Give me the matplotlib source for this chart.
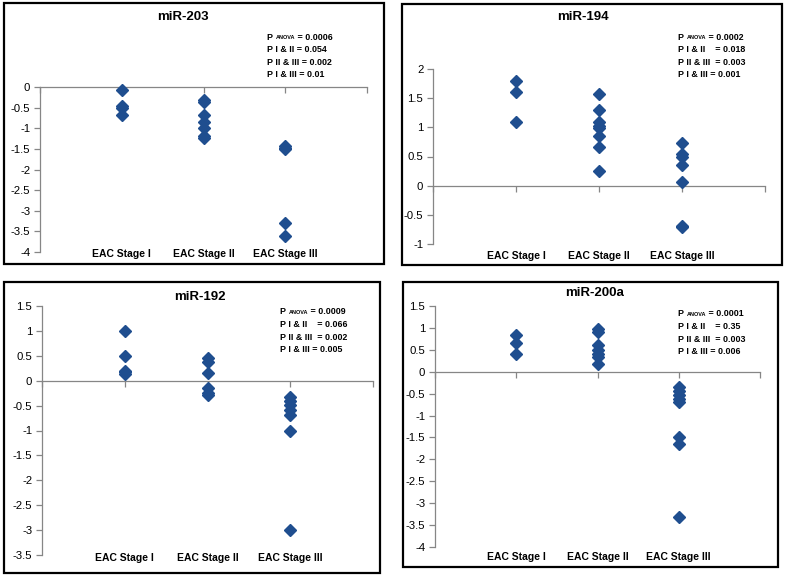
import matplotlib
matplotlib.use("Agg")
import matplotlib.pyplot as plt
from matplotlib.patches import Rectangle
from matplotlib.transforms import offset_copy

plt.rcParams["font.family"] = ["Liberation Sans", "DejaVu Sans"]

# ---------------------------------------------------------------------------
# Data
# ---------------------------------------------------------------------------
CATEGORIES = ["EAC Stage I", "EAC Stage II", "EAC Stage III"]

MIR203_I = [-0.08, -0.47, -0.50, -0.68]
MIR203_II = [-0.31, -0.36, -0.68, -0.86, -1.00, -1.18, -1.24]
MIR203_III = [-1.44, -1.48, -1.51, -3.29, -3.60]

MIR194_I = [1.80, 1.60, 1.10]
MIR194_II = [1.57, 1.29, 1.09, 1.02, 0.99, 0.86, 0.67, 0.25]
MIR194_III = [0.74, 0.54, 0.49, 0.35, 0.06, -0.69, -0.71]

MIR192_I = [1.00, 0.50, 0.20, 0.17, 0.13]
MIR192_II = [0.46, 0.37, 0.16, -0.15, -0.25, -0.29]
MIR192_III = [-0.33, -0.40, -0.49, -0.59, -0.69, -1.00, -3.00]

MIR200A_I = [0.84, 0.66, 0.41]
MIR200A_II = [0.98, 0.90, 0.60, 0.49, 0.40, 0.33, 0.17]
MIR200A_III = [-0.35, -0.45, -0.54, -0.63, -0.68, -1.49, -1.64, -3.32]

P_ANOVA = ["0.0006", "0.0002", "0.0009", "0.0001"]
P_I_II = ["0.054", "0.018", "0.066", "0.35"]
P_II_III = ["0.002", "0.003", "0.002", "0.003"]
P_I_III = ["0.01", "0.001", "0.005", "0.006"]

TITLES = ["miR-203", "miR-194", "miR-192", "miR-200a"]
GROUPS = [
    [MIR203_I, MIR203_II, MIR203_III],
    [MIR194_I, MIR194_II, MIR194_III],
    [MIR192_I, MIR192_II, MIR192_III],
    [MIR200A_I, MIR200A_II, MIR200A_III],
]
YLIMS = [(-4, 0), (-1, 2), (-3.5, 1.5), (-4, 1.5)]

# ---------------------------------------------------------------------------
# Layout (pixel boxes, origin top-left)
# ---------------------------------------------------------------------------
W, H = 785, 575
BORDERS = [(4, 3, 384, 264), (402, 4, 782, 265), (4, 282, 380, 573), (403, 282, 778, 567)]
AXES = [(40, 87, 367, 252), (433, 69, 765, 244), (42, 306, 373, 555), (435, 306, 760, 547)]
TITLE_POS = [(183, 17), (583, 17), (200, 297), (595, 293)]
PTEXT_POS = [(267, 37), (678, 37), (280, 312), (678, 314)]
CAT_LABEL_Y = [254, 256, 558, 557]
SPACED = [False, True, True, True]

MARKER_COLOR = "#1f4e8f"
AXIS_COLOR = "#868686"

fig = plt.figure(figsize=(W / 100, H / 100), dpi=100)


def fx(x):
    return x / W


def fy(y):
    return 1 - y / H


def p_block(x, y, i):
    """The four p-value lines; 'ANOVA' drawn smaller after the P."""
    fs = 6.4
    gap = " " * 4 if SPACED[i] else " "
    gap2 = " " * 2 if SPACED[i] else " "
    t = fig.text(fx(x), fy(y), "P ", fontsize=fs, fontweight="bold", va="center")
    r = fig.canvas.get_renderer()
    w = t.get_window_extent(r).width
    t2 = fig.text(fx(x), fy(y), "ANOVA", fontsize=fs * 0.62, fontweight="bold",
                  va="center", transform=offset_copy(fig.transFigure, fig=fig,
                                                     x=w, y=-0.5, units="dots"))
    w2 = t2.get_window_extent(r).width
    fig.text(fx(x), fy(y), f" = {P_ANOVA[i]}", fontsize=fs, fontweight="bold",
             va="center", transform=offset_copy(fig.transFigure, fig=fig,
                                                x=w + w2, y=0, units="dots"))
    lines = [f"P I & II{gap}= {P_I_II[i]}",
             f"P II & III{gap2}= {P_II_III[i]}",
             f"P I & III = {P_I_III[i]}"]
    for k, line in enumerate(lines):
        fig.text(fx(x), fy(y + 12.6 * (k + 1)), line, fontsize=fs,
                 fontweight="bold", va="center")


for i in range(4):
    bx0, by0, bx1, by1 = BORDERS[i]
    fig.patches.append(Rectangle((fx(bx0), fy(by1)), fx(bx1 - bx0), (by1 - by0) / H,
                                 transform=fig.transFigure, fill=False,
                                 edgecolor="black", lw=1.6, zorder=0))
    ax0, ay0, ax1, ay1 = AXES[i]
    ax = fig.add_axes([fx(ax0), fy(ay1), fx(ax1 - ax0), (ay1 - ay0) / H])
    for j, vals in enumerate(GROUPS[i]):
        ax.plot([j + 1] * len(vals), vals, linestyle="none", marker="D", ms=6.2,
                color=MARKER_COLOR, clip_on=False, zorder=3)
    ax.set_xlim(0, 4)
    ylo, yhi = YLIMS[i]
    ax.set_ylim(ylo, yhi)
    ax.set_yticks([ylo + 0.5 * k for k in range(int(round((yhi - ylo) / 0.5)) + 1)])
    ax.yaxis.set_major_formatter(plt.FuncFormatter(lambda v, _: f"{v:g}"))
    ax.set_xticks([0, 1, 2, 3, 4])
    ax.tick_params(axis="x", labelbottom=False, direction="out", length=4,
                   color=AXIS_COLOR, width=0.9)
    ax.tick_params(axis="y", direction="out", length=4, color=AXIS_COLOR, width=0.9,
                   labelsize=8.2, pad=3)
    for s in ("top", "right"):
        ax.spines[s].set_visible(False)
    ax.spines["bottom"].set_position(("data", 0))
    for s in ("left", "bottom"):
        ax.spines[s].set_color(AXIS_COLOR)
        ax.spines[s].set_linewidth(0.9)
    ax.patch.set_alpha(0)

    for j, cat in enumerate(CATEGORIES):
        fig.text(fx(ax0 + (ax1 - ax0) * (j + 1) / 4), fy(CAT_LABEL_Y[i]), cat,
                 ha="center", va="center", fontsize=7.5, fontweight="bold")

    tx, ty = TITLE_POS[i]
    fig.text(fx(tx), fy(ty), TITLES[i], ha="center", va="center", fontsize=9.5,
             fontweight="bold")
    px, py = PTEXT_POS[i]
    p_block(px, py, i)

fig.savefig("out.png", dpi=100, facecolor="white")
